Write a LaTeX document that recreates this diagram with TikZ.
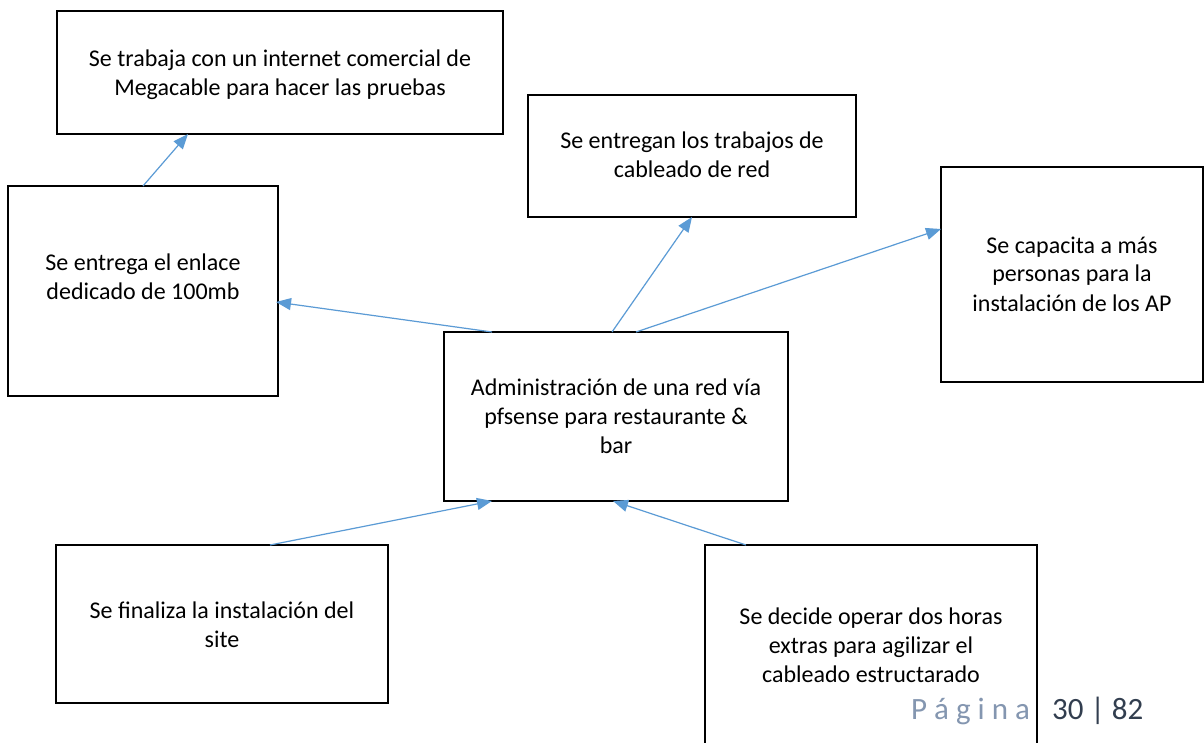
\documentclass[tikz,border=0pt]{standalone}
\usepackage{fontspec}
\setmainfont{Carlito}
\usetikzlibrary{arrows.meta,calc}
\definecolor{arrowblue}{HTML}{5B9BD5}
\definecolor{pagegray}{HTML}{8496B0}
\definecolor{pagedark}{HTML}{323E4F}
\tikzset{
  box/.style={draw=black, line width=2pt, rectangle, inner sep=0pt, outer sep=0pt},
  lbl/.style={align=center, font=\fontsize{24}{29}\selectfont, inner sep=0pt, anchor=base},
  conn/.style={draw=arrowblue, line width=1.2pt, -{Triangle[length=15pt,width=12pt]}},
  foot/.style={anchor=base west, font=\fontsize{31}{37}\selectfont, inner sep=0pt},
}
\begin{document}
\begin{tikzpicture}[x=1pt,y=-1pt]
\useasboundingbox[fill=white] (0,0) rectangle (1204,743);
% boxes
\node[box, minimum width=446pt, minimum height=123pt] (A) at (280,72.5) {};
\node[box, minimum width=270pt, minimum height=210pt] (B) at (143,291) {};
\node[box, minimum width=328pt, minimum height=122pt] (C) at (692,156) {};
\node[box, minimum width=262pt, minimum height=215pt] (D) at (1072,274.5) {};
\node[box, minimum width=344pt, minimum height=169pt] (E) at (616,416.5) {};
\node[box, minimum width=332pt, minimum height=158pt] (F) at (222,624) {};
\node[box, minimum width=332pt, minimum height=245pt] (G) at (871,667.5) {};
% texts (anchor base = baseline of last line)
\node[lbl] (tA) at (280,96) {Se trabaja con un internet comercial de\\Megacable para hacer las pruebas};
\node[lbl] (tB) at (143,299) {Se entrega el enlace\\dedicado de 100mb};
\node[lbl] (tC) at (692,178) {Se entregan los trabajos de\\cableado de red};
\node[lbl] (tD) at (1072,311) {Se capacita a más\\personas para la\\instalación de los AP};
\node[lbl] (tE) at (616,453) {Administración de una red vía\\pfsense para restaurante \&\\bar};
\node[lbl] (tF) at (222,647) {Se finaliza la instalación del\\site};
\node[lbl] (tG) at (871,682) {Se decide operar dos horas\\extras para agilizar el\\cableado estructarado};
% connectors
\draw[conn] (B.north) -- ($(A.south west)+(131,0)$);
\draw[conn] ($(E.north west)+(48,0)$) -- ($(B.east)+(-2,11)$);
\draw[conn] ($(E.north west)+(168,0)$) -- (C.south);
\draw[conn] ($(E.north west)+(192,0)$) -- ($(D.north west)+(0,62)$);
\draw[conn] ($(F.north west)+(214,0)$) -- ($(E.south west)+(48,0)$);
\draw[conn] ($(G.north west)+(41,0)$) -- ($(E.south west)+(169,0)$);
% footer
\node[foot, text=pagegray] (pg) at (911,719) {P á g i n a};
\node[foot, text=pagedark] (pn) at (1052,719) {30 | 82};
\end{tikzpicture}
\end{document}
